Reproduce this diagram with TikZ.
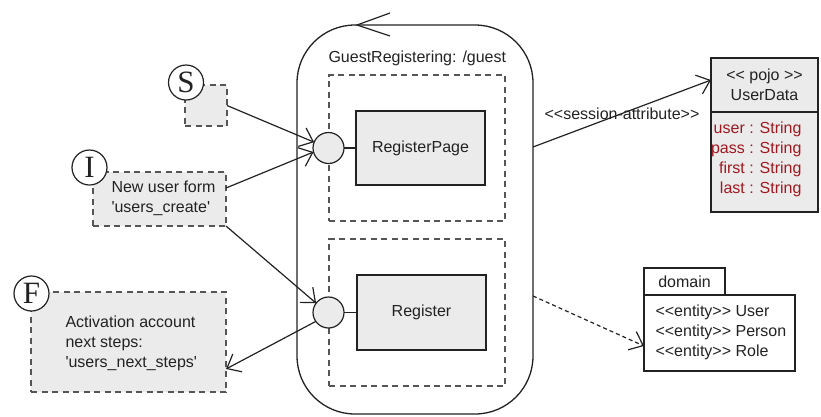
\documentclass[tikz,border=0pt]{standalone}
\usepackage{fontspec}
\setmainfont{Liberation Sans}[Ligatures=TeXOff]
\newfontfamily\letterfont{Liberation Serif}
\usetikzlibrary{arrows.meta}
\definecolor{boxgray}{HTML}{EBEBEB}
\definecolor{inkline}{HTML}{222222}
\definecolor{dashgray}{HTML}{555555}
\definecolor{attrred}{HTML}{A01820}
\begin{document}
\begin{tikzpicture}[x=1pt,y=-1pt,
  every node/.style={font=\fontsize{16}{20}\selectfont, text=inkline},
  frame/.style={anchor=north west, inner sep=0pt, outer sep=0pt},
  solidbox/.style={frame, draw=inkline, line width=1.3pt, fill=boxgray},
  whitebox/.style={frame, draw=inkline, line width=1.2pt, fill=white},
  pane/.style={frame, draw=dashgray, line width=1.2pt, dash pattern=on 6pt off 4.5pt},
  notebox/.style={pane, fill=boxgray},
  port/.style={circle, draw=inkline, line width=1.2pt, fill=boxgray, minimum size=31pt, inner sep=0pt, outer sep=0pt},
  tag/.style={circle, draw=inkline, line width=1.2pt, fill=white, minimum size=35pt, inner sep=0pt, outer sep=0pt, font=\letterfont\fontsize{31}{31}\selectfont},
  conn/.style={draw=inkline, line width=1.2pt, -{Straight Barb[length=12pt,width=20pt]}},
]
\useasboundingbox (0,0) rectangle (821,416);

% the GuestRegistering state
\node[frame, draw=inkline, line width=1.3pt, rounded corners=58pt,
      minimum width=236pt, minimum height=389pt] (guest) at (297,25) {};
\draw[inkline, line width=1.2pt] (390,13) -- (357,25) -- (390,36);
\node[anchor=west] (title) at (325,58) {GuestRegistering: /guest};

% inner panes with their pages
\node[pane, minimum width=176pt, minimum height=146pt] (paneA) at (329,75) {};
\node[pane, minimum width=176pt, minimum height=147pt] (paneB) at (329,239) {};
\node[solidbox, minimum width=129pt, minimum height=74pt] (rpage) at (356,111) {};
\node at (rpage.center) {RegisterPage};
\node[solidbox, minimum width=129pt, minimum height=75pt] (reg) at (357,275) {};
\node at (reg.center) {Register};
\node[port] (c1) at (328.5,148) {};
\node[port] (c2) at (328.5,312.5) {};
\draw[inkline, line width=1.2pt] (c1.east) -- (rpage.west);
\draw[inkline, line width=1.2pt] (c2.east) -- (reg.west);

% start, initial and final views
\node[notebox, minimum width=42pt, minimum height=41pt] (sbox) at (185,85) {};
\node[tag] (stag) at (186,82.5) {S};
\node[notebox, minimum width=133pt, minimum height=54pt] (ibox) at (93,172) {};
\node[anchor=west, align=left] (itext) at (108,198) {New user form\\'users\_create'};
\node[tag] (itag) at (89.5,167.5) {I};
\node[notebox, minimum width=195pt, minimum height=100pt] (fbox) at (31,292) {};
\node[anchor=west, align=left] (ftext) at (62,343) {Activation account\\next steps:\\'users\_next\_steps'};
\node[tag] (ftag) at (31.5,293.5) {F};

% UserData class
\node[solidbox, minimum width=107pt, minimum height=54pt] (udhead) at (711,58) {};
\node[align=center] (udname) at (udhead.center) {<< pojo >>\\UserData};
\node[solidbox, minimum width=107pt, minimum height=100pt] (udbody) at (711,112) {};
\node[anchor=east, align=right, text=attrred] (udattr) at (805,159)
  {user : String\\pass : String\\first : String\\last : String};

% domain package
\node[whitebox, minimum width=81pt, minimum height=27pt] (domtab) at (644,268) {};
\node at (domtab.center) {domain};
\node[whitebox, minimum width=151pt, minimum height=76pt] (dombody) at (644,295) {};
\node[anchor=west, align=left] (domtext) at (652,332)
  {<<entity>> User\\<<entity>> Person\\<<entity>> Role};

% connectors
\draw[conn] (sbox.east) -- (c1.158);
\draw[conn] ([yshift=11pt]ibox.east) -- (c1.195);
\draw[conn] (ibox.south east) -- (c2.143);
\draw[conn] (c2.215) -- ([yshift=-27pt]fbox.east);
\draw[conn] ([yshift=72.5pt]guest.east) -- ([yshift=5pt]udhead.west)
  node[midway] {<<session-attribute>>};
\draw[conn, dash pattern=on 4pt off 3pt] ([yshift=-76.5pt]guest.east) -- ([yshift=-13pt]dombody.west);
\end{tikzpicture}
\end{document}
